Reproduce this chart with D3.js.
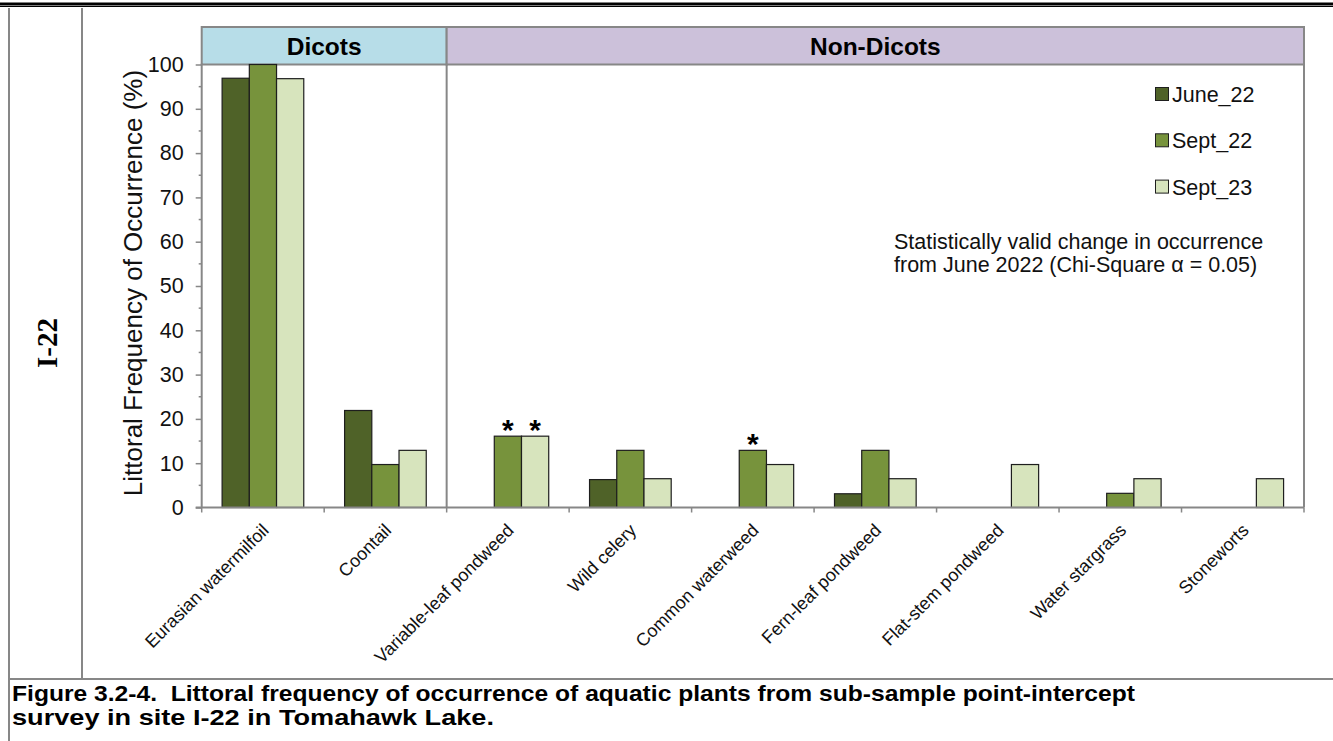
<!DOCTYPE html>
<html>
<head>
<meta charset="utf-8">
<script src="https://cdn.jsdelivr.net/npm/d3@7"></script>
<style>
  html, body { margin: 0; padding: 0; background: #fff; }
  svg { display: block; }
</style>
</head>
<body>
<script>
// Species surveyed and their littoral frequency of occurrence (%) per survey
const categories = [
  "Eurasian watermilfoil", "Coontail", "Variable-leaf pondweed", "Wild celery",
  "Common waterweed", "Fern-leaf pondweed", "Flat-stem pondweed",
  "Water stargrass", "Stoneworts"
];
const seriesNames = ["June_22", "Sept_22", "Sept_23"];
const june22 = [96.9, 21.9, 0, 6.3, 0, 3.1, 0, 0, 0];
const sept22 = [100, 9.7, 16.1, 12.9, 12.9, 12.9, 0, 3.2, 0];
const sept23 = [96.8, 12.9, 16.1, 6.5, 9.7, 6.5, 9.7, 6.5, 6.5];
// Statistically valid change from June 2022 (marked with an asterisk)
const sept22Sig = [false, false, true, false, true, false, false, false, false];
const sept23Sig = [false, false, true, false, false, false, false, false, false];
const yTicks = [0, 10, 20, 30, 40, 50, 60, 70, 80, 90, 100];
const groups = [
  { name: "Dicots", from: "Eurasian watermilfoil", to: "Coontail" },
  { name: "Non-Dicots", from: "Variable-leaf pondweed", to: "Stoneworts" }
];
const captionLines = [
  "Figure 3.2-4.  Littoral frequency of occurrence of aquatic plants from sub-sample point-intercept",
  "survey in site I-22 in Tomahawk Lake."
];

const W = 1333, H = 741;
const colors = { June_22: "#4f6228", Sept_22: "#77933c", Sept_23: "#d7e4bd" };
const groupFill = { "Dicots": "#b7dde8", "Non-Dicots": "#ccc1da" };
const gridGrey = "#878787";
const sans = "'Liberation Sans', Arial, sans-serif";

const svg = d3.select("body").append("svg").attr("width", W).attr("height", H);

// Page rule and table frame
svg.append("rect").attr("x", 0).attr("y", 2.5).attr("width", W).attr("height", 3).attr("fill", "#000");
svg.append("rect").attr("x", 0).attr("y", 6).attr("width", W).attr("height", 1).attr("fill", "#000");
const frame = svg.append("g").attr("stroke", gridGrey).attr("stroke-width", 2);
frame.append("line").attr("x1", 9).attr("x2", 9).attr("y1", 8).attr("y2", H);
frame.append("line").attr("x1", 82).attr("x2", 82).attr("y1", 8).attr("y2", 679);
frame.append("line").attr("x1", 9).attr("x2", W).attr("y1", 679).attr("y2", 679);

// Row label
svg.append("text")
  .attr("transform", "translate(57,343) rotate(-90)")
  .attr("text-anchor", "middle")
  .style("font-family", "'Liberation Serif', 'Times New Roman', serif")
  .style("font-weight", "bold").style("font-size", "29px")
  .text("I-22");

// Caption: two bold lines, widened to fill the cell
const capWidths = [1123, 482];
captionLines.forEach((line, i) => {
  svg.append("text")
    .attr("x", 12).attr("y", 701 + i * 23.5)
    .attr("textLength", capWidths[i]).attr("lengthAdjust", "spacingAndGlyphs")
    .style("font-family", sans).style("font-weight", "bold").style("font-size", "21.5px")
    .style("white-space", "pre")
    .text(line);
});

// Scales
const plotLeft = 201.7, plotRight = 1304, plotTop = 64.5, plotBottom = 507.5, headTop = 27;
const x0 = d3.scaleBand().domain(categories).range([plotLeft, plotRight]).paddingInner(0).paddingOuter(0);
const x1 = d3.scaleBand().domain(seriesNames).range([0, x0.bandwidth()]).paddingInner(0).paddingOuter(0.75);
const y = d3.scaleLinear().domain([0, 100]).range([plotBottom, plotTop]);

// Group header bands
groups.forEach(g => {
  const gx0 = x0(g.from), gx1 = x0(g.to) + x0.bandwidth();
  svg.append("rect").attr("x", gx0).attr("y", headTop).attr("width", gx1 - gx0).attr("height", plotTop - headTop)
    .attr("fill", groupFill[g.name]).attr("stroke", gridGrey).attr("stroke-width", 2);
  svg.append("text").attr("x", (gx0 + gx1) / 2).attr("y", 55)
    .attr("text-anchor", "middle")
    .style("font-family", sans).style("font-weight", "bold").style("font-size", "24.5px")
    .text(g.name);
});

// Plot frame: right edge and group divider
svg.append("line").attr("x1", plotRight).attr("x2", plotRight).attr("y1", plotTop).attr("y2", plotBottom)
  .attr("stroke", gridGrey).attr("stroke-width", 2);
const divX = x0(groups[1].from);
svg.append("line").attr("x1", divX).attr("x2", divX).attr("y1", plotTop).attr("y2", plotBottom)
  .attr("stroke", gridGrey).attr("stroke-width", 2);

// Bars
const seriesData = { June_22: june22, Sept_22: sept22, Sept_23: sept23 };
const barRows = [];
seriesNames.forEach(s => {
  seriesData[s].forEach((v, i) => {
    if (v > 0) barRows.push({ cat: categories[i], series: s, value: v });
  });
});
svg.append("g").selectAll("rect").data(barRows).join("rect")
  .attr("x", d => x0(d.cat) + x1(d.series))
  .attr("y", d => y(d.value))
  .attr("width", x1.bandwidth())
  .attr("height", d => y(0) - y(d.value))
  .attr("fill", d => colors[d.series])
  .attr("stroke", "#1e1e1e").attr("stroke-width", 1.2);

// Significance asterisks
const stars = [];
categories.forEach((c, i) => {
  if (sept22Sig[i]) stars.push({ cat: c, series: "Sept_22", value: sept22[i] });
  if (sept23Sig[i]) stars.push({ cat: c, series: "Sept_23", value: sept23[i] });
});
svg.append("g").selectAll("text").data(stars).join("text")
  .attr("x", d => x0(d.cat) + x1(d.series) + x1.bandwidth() / 2)
  .attr("y", d => y(d.value) + 4)
  .attr("text-anchor", "middle")
  .style("font-family", sans).style("font-weight", "bold").style("font-size", "30px")
  .text("*");

// Y axis
const yAxis = d3.axisLeft(y).tickValues(yTicks).tickSize(6).tickPadding(12);
const gy = svg.append("g").attr("transform", `translate(${plotLeft},0)`).call(yAxis);
gy.select(".domain").attr("stroke", gridGrey).attr("stroke-width", 2).attr("d", `M0,${plotTop - 1}V${plotBottom}`);
gy.selectAll(".tick line").attr("stroke", gridGrey).attr("stroke-width", 1.5);
gy.selectAll(".tick text").style("font-family", sans).style("font-size", "21.5px").attr("fill", "#111");
// Minor ticks
const minor = d3.range(5, 100, 10);
gy.append("g").selectAll("line").data(minor).join("line")
  .attr("x1", -3).attr("x2", 0).attr("y1", d => y(d)).attr("y2", d => y(d))
  .attr("stroke", gridGrey).attr("stroke-width", 1.5);

svg.append("text")
  .attr("transform", "translate(142,283) rotate(-90)")
  .attr("text-anchor", "middle")
  .style("font-family", sans).style("font-size", "26px").attr("fill", "#111")
  .text("Littoral Frequency of Occurrence (%)");

// X axis line and category boundary ticks
const boundaries = categories.map(c => x0(c)).concat([plotRight]);
const gx = svg.append("g");
gx.append("line").attr("x1", plotLeft - 6).attr("x2", plotRight).attr("y1", plotBottom).attr("y2", plotBottom)
  .attr("stroke", gridGrey).attr("stroke-width", 2);
gx.selectAll("line.tk").data(boundaries).join("line").attr("class", "tk")
  .attr("x1", d => d).attr("x2", d => d).attr("y1", plotBottom).attr("y2", plotBottom + 5)
  .attr("stroke", gridGrey).attr("stroke-width", 1.5);

// Rotated category labels
gx.selectAll("text").data(categories).join("text")
  .attr("transform", d => `translate(${x0(d) + x0.bandwidth() / 2 + 7},${plotBottom + 24}) rotate(-45)`)
  .attr("text-anchor", "end")
  .style("font-family", sans).style("font-size", "18px").attr("fill", "#111")
  .text(d => d);

// Legend
const legend = svg.append("g");
seriesNames.forEach((s, i) => {
  const ly = 94 + i * 46.3;
  legend.append("rect").attr("x", 1155.5).attr("y", ly - 6.5).attr("width", 13).attr("height", 13)
    .attr("fill", colors[s]).attr("stroke", "#1e1e1e").attr("stroke-width", 1);
  legend.append("text").attr("x", 1172).attr("y", ly + 8)
    .style("font-family", sans).style("font-size", "21.5px").attr("fill", "#111")
    .text(s);
});

// Note on significance
const note = svg.append("text").style("font-family", sans).style("font-size", "21.5px").attr("fill", "#111");
note.append("tspan").attr("x", 894).attr("y", 249).text("Statistically valid change in occurrence");
note.append("tspan").attr("x", 894).attr("y", 272).text("from June 2022 (Chi-Square \u03b1 = 0.05)");
</script>
</body>
</html>
